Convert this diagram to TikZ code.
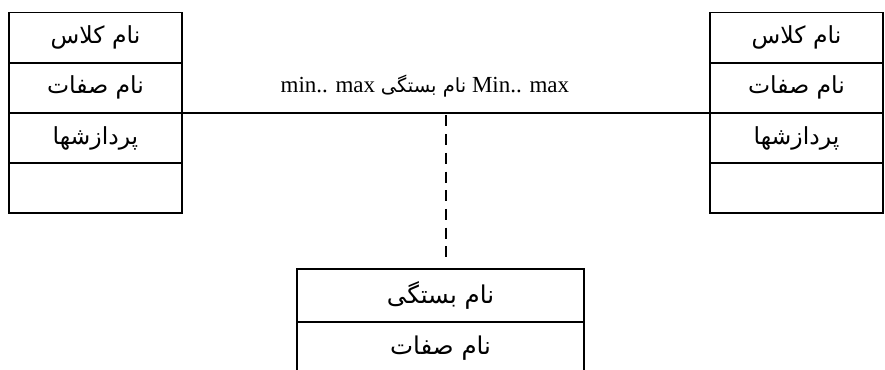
\documentclass[tikz,border=0pt]{standalone}
\usepackage{fontspec}
\setmainfont{Liberation Serif}
\newfontfamily\farsi[Script=Arabic]{DejaVu Sans}
\TeXXeTstate=1
\usetikzlibrary{positioning}
\newcommand{\fa}[2][23.5]{{\farsi\fontsize{#1}{27}\selectfont\beginR #2\endR}}

\begin{document}
\begin{tikzpicture}[x=1pt, y=-1pt, line width=1.7pt,
    every node/.style={inner sep=0pt, outer sep=0pt},
    cls/.style={rectangle, draw, anchor=north west, minimum width=173pt, minimum height=50.2pt},
    rel/.style={rectangle, draw, anchor=north west, minimum width=287pt, minimum height=53pt}]
    \useasboundingbox (0,0) rectangle (885,369);
    \clip (0,0) rectangle (885,369);

    % left class
    \node (c1a) [cls] at (9,12.5) {\fa{نام کلاس}};
    \node (c1b) [cls, below=0pt of c1a] {\fa{نام صفات}};
    \node (c1c) [cls, below=0pt of c1b] {\fa{پردازشها}};
    \node (c1d) [cls, below=0pt of c1c] {};

    % right class
    \node (c2a) [cls] at (710,12.5) {\fa{نام کلاس}};
    \node (c2b) [cls, below=0pt of c2a] {\fa{نام صفات}};
    \node (c2c) [cls, below=0pt of c2b] {\fa{پردازشها}};
    \node (c2d) [cls, below=0pt of c2c] {};

    % association class
    \node (r1) [rel] at (297,269) {\fa[24.5]{نام بستگی}};
    \node (r2) [rel, below=0pt of r1] {\fa[24.5]{نام صفات}};

    \draw (c1b.south east) -- coordinate[midway] (mid)
        node[pos=0.46, anchor=base, yshift=20pt, font=\fontsize{23}{27}\selectfont] (lbl) {min.. max \fa[19.5]{نام بستگی} Min.. max}
        (c2b.south west);
    \draw[dash pattern=on 11pt off 7.7pt, shorten <=2.5pt, shorten >=12pt] (mid) -- (mid |- r1.north);
\end{tikzpicture}
\end{document}
